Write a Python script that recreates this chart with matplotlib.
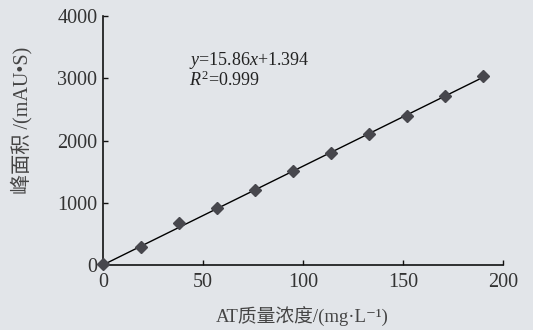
import matplotlib
matplotlib.use("Agg")
import matplotlib.pyplot as plt
import numpy as np

# Data
conc = [0, 19, 38, 57, 76, 95, 114, 133, 152, 171, 190]
area = [20, 285, 670, 920, 1210, 1510, 1805, 2105, 2395, 2720, 3040]
slope = 15.86
intercept = 1.394
x_ticks = [0, 50, 100, 150, 200]
y_ticks = [0, 1000, 2000, 3000, 4000]

bg = '#e2e5e9'
fams = ['Liberation Serif', 'Noto Sans CJK SC', 'DejaVu Serif']
plt.rcParams['font.family'] = fams
plt.rcParams['mathtext.fontset'] = 'custom'
plt.rcParams['mathtext.rm'] = 'Liberation Serif'
plt.rcParams['mathtext.it'] = 'Liberation Serif:italic'

fig = plt.figure(figsize=(5.33, 3.30), dpi=100, facecolor=bg)
ax = fig.add_axes([103/533, 65/330, 400/533, 249/330])
ax.set_facecolor(bg)

xf = np.array([conc[0], conc[-1]], dtype=float)
ax.plot(xf, slope * xf + intercept, color='black', lw=1.0, zorder=2)
ax.plot(conc, area, linestyle='none', marker='D', markersize=6.5,
        color='#47474d', zorder=3, clip_on=False)

ax.set_xlim(0, 200)
ax.set_ylim(0, 4000)
ax.set_xticks(x_ticks)
ax.set_yticks(y_ticks)
for s in ['top', 'right']:
    ax.spines[s].set_visible(False)
for s in ['left', 'bottom']:
    ax.spines[s].set_linewidth(1.2)
    ax.spines[s].set_color('#111111')
ax.tick_params(axis='both', direction='in', length=3.5, width=1.0,
               labelsize=14.5, labelcolor='#333333', color='#111111')
ax.tick_params(axis='x', pad=5.5)
ax.tick_params(axis='y', pad=4)

ax.text(43, 3290, r'$\mathit{y}$=15.86$\mathit{x}$+1.394', fontsize=13,
        color='#222222', va='center', ha='left')
ax.text(43, 2960, r'$\mathit{R}^2$=0.999', fontsize=13,
        color='#222222', va='center', ha='left')

fig.text(302/533, 1 - 317/330, 'AT质量浓度/(mg·L⁻¹)', fontsize=13.5,
         color='#444444', ha='center', va='center', family=fams)
fig.text(22/533, 1 - 120/330, '峰面积 /(mAU•S)', fontsize=14.5,
         color='#444444', ha='center', va='center', rotation=90, family=fams)

fig.savefig('out.png', dpi=100, facecolor=bg)
